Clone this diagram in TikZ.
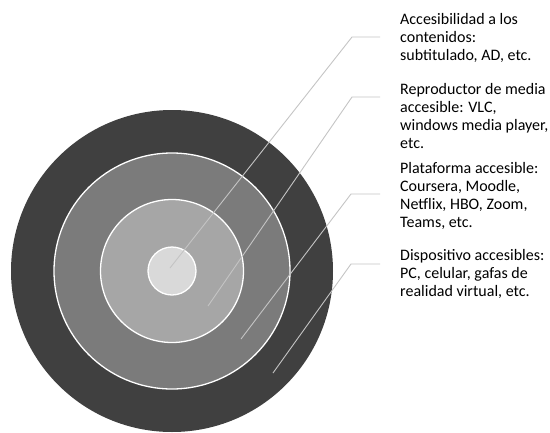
\documentclass[tikz,border=0pt]{standalone}
\usepackage{fontspec}
\setmainfont{Carlito}
\definecolor{anillo1}{HTML}{404040}
\definecolor{anillo2}{HTML}{7B7B7B}
\definecolor{anillo3}{HTML}{A6A6A6}
\definecolor{anillo4}{HTML}{D9D9D9}
\definecolor{guia}{HTML}{C4C4C4}
\tikzset{
  ring/.style={draw=white,line width=1.3pt},
  leader/.style={draw=guia,line width=0.9pt},
  etiqueta/.style={anchor=base west,align=left,inner sep=0pt,text=black,
    font=\fontsize{16}{17.8}\selectfont}
}
\begin{document}
\begin{tikzpicture}[x=1pt,y=-1pt]
            \useasboundingbox (0,0) rectangle (550,432);
            \fill[anillo1] (172,271) circle[radius=161pt];
            \filldraw[ring,fill=anillo2] (172,271) circle[radius=118pt];
            \filldraw[ring,fill=anillo3] (172,271) circle[radius=71.5pt];
            \filldraw[ring,fill=anillo4] (172,271) circle[radius=24pt];
            \node[etiqueta] (acceso) at (400,60) {Accesibilidad a los\\contenidos:\\subtitulado, AD, etc.};
            \node[etiqueta] (reproductor) at (400,148) {Reproductor de media\\accesible: VLC,\\windows media player,\\etc.};
            \node[etiqueta] (plataforma) at (400,227) {Plataforma accesible:\\Coursera, Moodle,\\Netflix, HBO, Zoom,\\Teams, etc.};
            \node[etiqueta] (dispositivo) at (400,296) {Dispositivo accesibles:\\PC, celular, gafas de\\realidad virtual, etc.};
            \coordinate (p1) at (170,268); \coordinate (e1) at (352,37);
            \coordinate (p2) at (208,306); \coordinate (e2) at (352,97);
            \coordinate (p3) at (241,339); \coordinate (e3) at (351,194);
            \coordinate (p4) at (273,373); \coordinate (e4) at (351,264);
            \draw[leader] (p1) -- (e1) -- ++(28,0);
            \draw[leader] (p2) -- (e2) -- ++(28,0);
            \draw[leader] (p3) -- (e3) -- ++(29,0);
            \draw[leader] (p4) -- (e4) -- ++(29,0);
        \end{tikzpicture}
\end{document}
